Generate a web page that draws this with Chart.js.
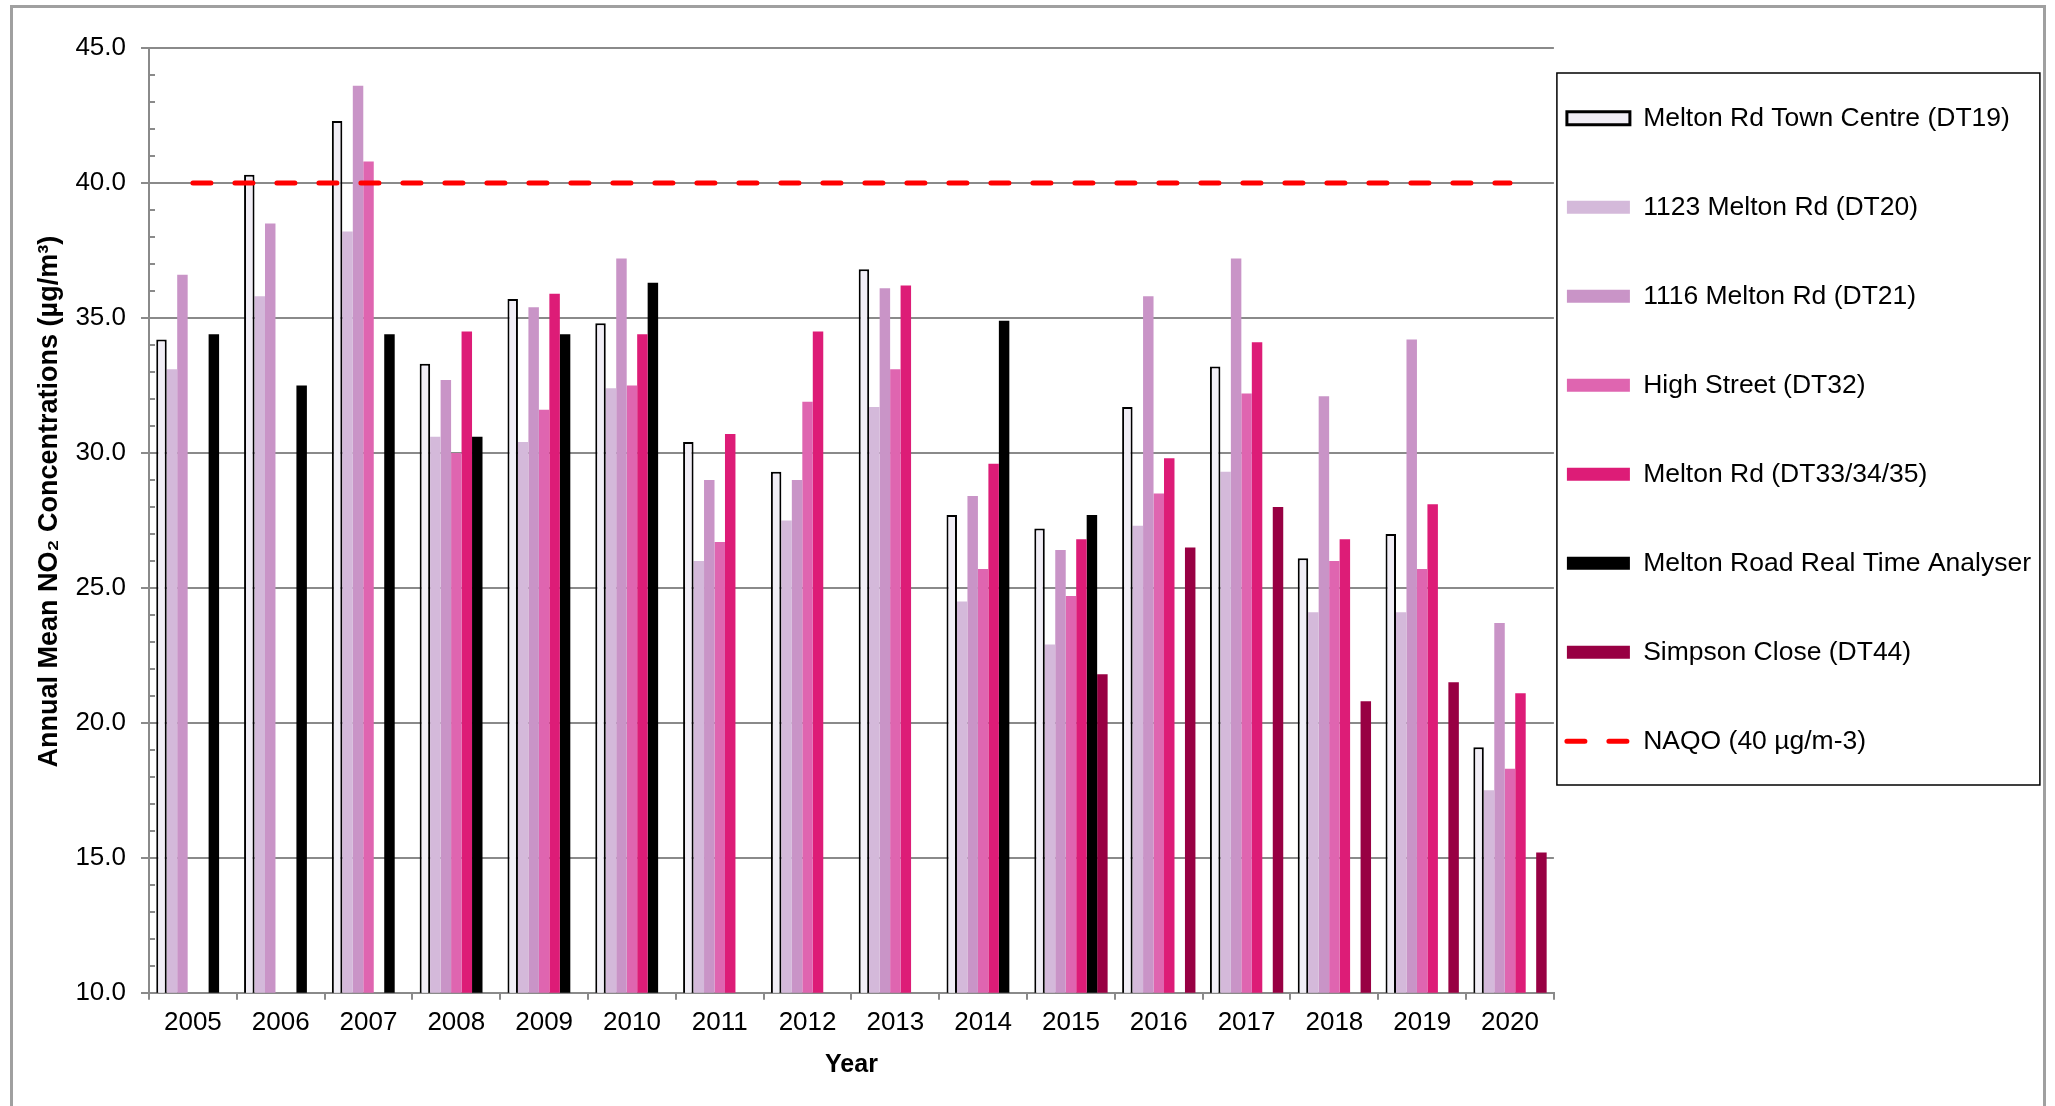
<!DOCTYPE html>
<html>
<head>
<meta charset="utf-8">
<script src="https://cdn.jsdelivr.net/npm/chart.js@4.4.1/dist/chart.umd.min.js"></script>
<style>
  html, body { margin: 0; padding: 0; background: #ffffff; }
  canvas { display: block; }
</style>
</head>
<body>
<canvas id="no2Chart" width="2055" height="1106"></canvas>
<script>
// Annual mean NO2 by monitoring site, 2005-2020 (µg/m³); null = no measurement that year
const years = ['2005', '2006', '2007', '2008', '2009', '2010', '2011', '2012',
               '2013', '2014', '2015', '2016', '2017', '2018', '2019', '2020'];

const dt19 = [34.2, 40.3, 42.3, 33.3, 35.7, 34.8, 30.4, 29.3, 36.8, 27.7, 27.2, 31.7, 33.2, 26.1, 27.0, 19.1];
const dt20 = [33.1, 35.8, 38.2, 30.6, 30.4, 32.4, 26.0, 27.5, 31.7, 24.5, 22.9, 27.3, 29.3, 24.1, 24.1, 17.5];
const dt21 = [36.6, 38.5, 43.6, 32.7, 35.4, 37.2, 29.0, 29.0, 36.1, 28.4, 26.4, 35.8, 37.2, 32.1, 34.2, 23.7];
const dt32 = [null, null, 40.8, 30.0, 31.6, 32.5, 26.7, 31.9, 33.1, 25.7, 24.7, 28.5, 32.2, 26.0, 25.7, 18.3];
const dt33 = [null, null, null, 34.5, 35.9, 34.4, 30.7, 34.5, 36.2, 29.6, 26.8, 29.8, 34.1, 26.8, 28.1, 21.1];
const realTime = [34.4, 32.5, 34.4, 30.6, 34.4, 36.3, null, null, null, 34.9, 27.7, null, null, null, null, null];
const dt44 = [null, null, null, null, null, null, null, null, null, null, 21.8, 26.5, 28.0, 20.8, 21.5, 15.2];
const naqo = [40, 40, 40, 40, 40, 40, 40, 40, 40, 40, 40, 40, 40, 40, 40, 40];

const siteNames = [
  'Melton Rd Town Centre (DT19)',
  '1123 Melton Rd (DT20)',
  '1116 Melton Rd (DT21)',
  'High Street (DT32)',
  'Melton Rd (DT33/34/35)',
  'Melton Road Real Time Analyser',
  'Simpson Close (DT44)'
];
const naqoName = 'NAQO (40 µg/m-3)';
const yTitle = 'Annual Mean NO₂ Concentrations (µg/m³)';
const yTicksFrom = 10;
const yTicksTo = 45;
const yStep = 5;

const FONT = "'Liberation Sans', Arial, Helvetica, sans-serif";
const GRID = '#8a8a8a';

// White page with the grey outer chart border
const outerFrame = {
  id: 'outerFrame',
  beforeDraw(chart) {
    const ctx = chart.ctx;
    ctx.save();
    ctx.fillStyle = '#ffffff';
    ctx.fillRect(0, 0, chart.width, chart.height);
    ctx.strokeStyle = '#a0a0a0';
    ctx.lineWidth = 3;
    ctx.strokeRect(11.5, 6.5, chart.width - 22, chart.height + 40);
    ctx.restore();
  }
};

// Short minor ticks on the inside of the value axis, one per unit
const minorTicks = {
  id: 'minorTicks',
  afterDraw(chart) {
    const ys = chart.scales.y;
    const ctx = chart.ctx;
    const x0 = chart.chartArea.left;
    ctx.save();
    ctx.strokeStyle = GRID;
    ctx.lineWidth = 2;
    ctx.beginPath();
    for (let v = ys.min; v <= ys.max; v += 1) {
      if (v % yStep === 0) continue;
      const py = Math.round(ys.getPixelForValue(v));
      ctx.moveTo(x0, py);
      ctx.lineTo(x0 + 6, py);
    }
    ctx.stroke();
    ctx.restore();
  }
};

// Thin black box round the legend
const legendFrame = {
  id: 'legendFrame',
  afterDraw(chart) {
    const lg = chart.legend;
    if (!lg) return;
    const ctx = chart.ctx;
    ctx.save();
    ctx.strokeStyle = '#000000';
    ctx.lineWidth = 1.5;
    const x0 = lg.left + 3;
    const y0 = lg.top + 25;
    ctx.strokeRect(x0, y0, 483, 712);
    ctx.restore();
  }
};

const barColors = ['#f1eef6', '#d4b9da', '#c994c7', '#df65b0', '#dd1c77', '#000000', '#980043'];
const barSeries = [dt19, dt20, dt21, dt32, dt33, realTime, dt44];

const datasets = barSeries.map((vals, i) => ({
  label: siteNames[i],
  data: vals,
  backgroundColor: barColors[i],
  borderColor: '#000000',
  borderWidth: i === 0 ? 2 : 0
}));

datasets.push({
  type: 'line',
  label: naqoName,
  data: naqo,
  borderColor: '#ff0000',
  backgroundColor: '#ff0000',
  borderWidth: 5,
  borderDash: [18, 24],
  borderCapStyle: 'round',
  pointRadius: 0,
  fill: false,
  order: -1
});

new Chart(document.getElementById('no2Chart'), {
  type: 'bar',
  data: { labels: years, datasets },
  options: {
    responsive: false,
    animation: false,
    devicePixelRatio: 1,
    layout: { padding: { left: 19, top: 48, right: 14, bottom: 16 } },
    datasets: {
      bar: { categoryPercentage: 0.835, barPercentage: 1, borderSkipped: 'start' }
    },
    plugins: {
      tooltip: { enabled: false },
      legend: {
        position: 'right',
        align: 'start',
        fullSize: false,
        title: { display: true, text: '', padding: 0, font: { family: FONT, size: 26, lineHeight: '44px' } },
        labels: {
          usePointStyle: true,
          pointStyleWidth: 63,
          boxHeight: 13,
          padding: 13,
          color: '#000000',
          font: { family: FONT, size: 26.5, lineHeight: '76px' },
          sort: (a, b) => a.datasetIndex - b.datasetIndex,
          generateLabels(chart) {
            const items = Chart.defaults.plugins.legend.labels.generateLabels(chart);
            return items.map(it => {
              const ds = chart.data.datasets[it.datasetIndex];
              it.text = [it.text];
              it.fontColor = '#000000';
              if (ds.type === 'line') {
                it.pointStyle = 'line';
                it.lineWidth = ds.borderWidth;
                it.lineDash = ds.borderDash;
                it.lineCap = 'round';
                it.strokeStyle = ds.borderColor;
              } else {
                it.pointStyle = 'rect';
                if (it.lineWidth > 0) it.lineWidth = 3;
              }
              return it;
            });
          }
        }
      }
    },
    scales: {
      x: {
        grid: { drawOnChartArea: false, color: GRID, lineWidth: 2, tickLength: 7 },
        border: { color: GRID, width: 2 },
        ticks: { color: '#000000', font: { family: FONT, size: 26 }, padding: 7, maxRotation: 0, autoSkip: false },
        title: {
          display: true, text: 'Year', color: '#000000',
          font: { family: FONT, size: 25, weight: 'bold' },
          padding: { top: 5, bottom: 10 }
        }
      },
      y: {
        min: yTicksFrom,
        max: yTicksTo,
        ticks: {
          stepSize: yStep,
          color: '#000000',
          font: { family: FONT, size: 26 },
          padding: 15,
          callback: v => Number(v).toFixed(1)
        },
        grid: { color: GRID, lineWidth: 2, tickLength: 8 },
        border: { color: GRID, width: 2 },
        title: {
          display: true,
          // leading spaces lift the title slightly above the axis middle
          text: '     ' + yTitle,
          color: '#000000',
          font: { family: FONT, size: 27, weight: 'bold' },
          padding: { top: 14, bottom: -5 }
        }
      }
    }
  },
  plugins: [outerFrame, minorTicks, legendFrame]
});
</script>
</body>
</html>
